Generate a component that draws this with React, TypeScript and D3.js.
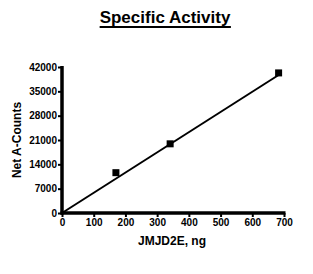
import { useEffect, useRef } from 'react';
import * as d3 from 'd3';

const doseNg = [170, 341, 683];
const netCounts = [11600, 19900, 40300];
const fitX = [0, 683];
const fitY = [0, 39700];
const xTicks = [0, 100, 200, 300, 400, 500, 600, 700];
const yTicks = [0, 7000, 14000, 21000, 28000, 35000, 42000];

const W = 313;
const H = 274;

const App = (): JSX.Element => {
  const svgRef = useRef<SVGSVGElement>(null);

  useEffect(() => {
    if (svgRef.current) svgRef.current.innerHTML = '';
    const svg = d3.select(svgRef.current).attr('width', W).attr('height', H);
    const font = "'Liberation Sans', Arial, sans-serif";

    const x = d3.scaleLinear([0, 700], [62, 284]);
    const y = d3.scaleLinear([0, 42000], [213, 67]);

    // title
    const title = svg
      .append('text')
      .attr('x', 165)
      .attr('y', 23)
      .attr('text-anchor', 'middle')
      .attr('font-family', font)
      .attr('font-weight', 'bold')
      .attr('font-size', 17)
      .text('Specific Activity');
    const bb = (title.node() as SVGTextElement).getBBox();
    svg
      .append('line')
      .attr('x1', bb.x)
      .attr('x2', bb.x + bb.width)
      .attr('y1', 27)
      .attr('y2', 27)
      .attr('stroke', '#000')
      .attr('stroke-width', 2);

    // axes
    const xAxis = svg
      .append('g')
      .attr('transform', `translate(0,${y(0)})`)
      .call(d3.axisBottom(x).tickValues(xTicks).tickSize(4).tickPadding(2).tickFormat(d3.format('d')));
    const yAxis = svg
      .append('g')
      .attr('transform', `translate(${x(0)},0)`)
      .call(d3.axisLeft(y).tickValues(yTicks).tickSize(4).tickPadding(1).tickFormat(d3.format('d')));

    for (const g of [xAxis, yAxis]) {
      g.select('.domain').attr('stroke-width', 3.5).attr('stroke', '#000');
      g.selectAll('.tick line').attr('stroke-width', 2).attr('stroke', '#000');
      g.selectAll('.tick text')
        .attr('font-family', font)
        .attr('font-weight', 'bold')
        .attr('font-size', 10)
        .attr('fill', '#000');
    }
    xAxis.select('.domain').attr('d', `M${x(0) - 1.5},0H${x(700) + 1.5}`);
    yAxis.select('.domain').attr('d', `M0,${y(0) + 1.5}V${y(42000) - 1}`);

    // fit line
    const line = d3
      .line<number>()
      .x((d) => x(d))
      .y((_, i) => y(fitY[i]));
    svg
      .append('path')
      .attr('fill', 'none')
      .attr('stroke', '#000')
      .attr('stroke-width', 2)
      .attr('d', line(fitX));

    // points
    svg
      .append('g')
      .selectAll('rect')
      .data(doseNg)
      .join('rect')
      .attr('x', (d) => x(d) - 3.5)
      .attr('y', (_, i) => y(netCounts[i]) - 3.5)
      .attr('width', 7)
      .attr('height', 7)
      .attr('fill', '#000');

    // axis titles
    svg
      .append('text')
      .attr('x', 172)
      .attr('y', 245)
      .attr('text-anchor', 'middle')
      .attr('font-family', font)
      .attr('font-weight', 'bold')
      .attr('font-size', 12)
      .text('JMJD2E, ng');
    svg
      .append('text')
      .attr('transform', `translate(21,${(y(0) + y(42000)) / 2}) rotate(-90)`)
      .attr('text-anchor', 'middle')
      .attr('font-family', font)
      .attr('font-weight', 'bold')
      .attr('font-size', 12)
      .text('Net A-Counts');
  }, []);

  return <svg ref={svgRef} style={{ position: 'absolute', left: 0, top: 0, background: '#fff' }} />;
};

export default App;
